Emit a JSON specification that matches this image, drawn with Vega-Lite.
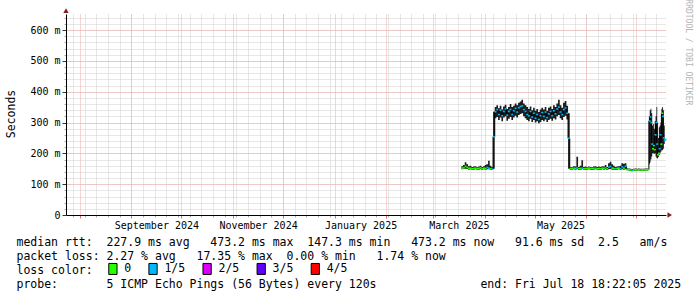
{
  "$schema": "https://vega.github.io/schema/vega-lite/v6.json",
  "width": 600,
  "height": 201,
  "autosize": {"type": "none"},
  "padding": {"left": 66, "top": 14, "right": 31, "bottom": 82},
  "background": "white",
  "title": {"text": "RRDTOOL / TOBI OETIKER", "orient": "right", "anchor": "start", "fontSize": 8, "font": "DejaVu Sans Mono", "fontWeight": "normal", "color": "#b4b4b4", "offset": 3, "dx": -9},
  "config": {"view": {"stroke": null}, "font": "DejaVu Sans Mono"},
  "datasets": {
    "ping": [
      {"t": "2025-03-18", "m": 152, "lo": 148, "hi": 158, "l": "0"},
      {"t": "2025-03-19", "m": 153, "lo": 149, "hi": 162, "l": "0"},
      {"t": "2025-03-20", "m": 158, "lo": 150, "hi": 171, "l": "0"},
      {"t": "2025-03-21", "m": 154, "lo": 149, "hi": 165, "l": "0"},
      {"t": "2025-03-22", "m": 151, "lo": 147, "hi": 158, "l": "0"},
      {"t": "2025-03-23", "m": 152, "lo": 148, "hi": 160, "l": "0"},
      {"t": "2025-03-24", "m": 150, "lo": 147, "hi": 156, "l": "0"},
      {"t": "2025-03-25", "m": 151, "lo": 147, "hi": 157, "l": "0"},
      {"t": "2025-03-26", "m": 152, "lo": 148, "hi": 158, "l": "0"},
      {"t": "2025-03-27", "m": 150, "lo": 147, "hi": 155, "l": "0"},
      {"t": "2025-03-28", "m": 151, "lo": 147, "hi": 157, "l": "0"},
      {"t": "2025-03-29", "m": 153, "lo": 148, "hi": 160, "l": "0"},
      {"t": "2025-03-30", "m": 150, "lo": 146, "hi": 156, "l": "0"},
      {"t": "2025-03-31", "m": 152, "lo": 148, "hi": 158, "l": "0"},
      {"t": "2025-04-01", "m": 151, "lo": 147, "hi": 162, "l": "0"},
      {"t": "2025-04-02", "m": 154, "lo": 148, "hi": 165, "l": "1/5"},
      {"t": "2025-04-03", "m": 152, "lo": 148, "hi": 176, "l": "1/5"},
      {"t": "2025-04-04", "m": 150, "lo": 147, "hi": 160, "l": "0"},
      {"t": "2025-04-05", "m": 149, "lo": 146, "hi": 155, "l": "1/5"},
      {"t": "2025-04-06", "m": 254, "lo": 150, "hi": 335, "l": "1/5"},
      {"t": "2025-04-07", "m": 335, "lo": 314, "hi": 350, "l": "1/5"},
      {"t": "2025-04-08", "m": 342, "lo": 318, "hi": 356, "l": "1/5"},
      {"t": "2025-04-09", "m": 326, "lo": 308, "hi": 346, "l": "1/5"},
      {"t": "2025-04-10", "m": 340, "lo": 316, "hi": 354, "l": "1/5"},
      {"t": "2025-04-11", "m": 322, "lo": 304, "hi": 342, "l": "1/5"},
      {"t": "2025-04-12", "m": 336, "lo": 316, "hi": 352, "l": "1/5"},
      {"t": "2025-04-13", "m": 344, "lo": 320, "hi": 358, "l": "1/5"},
      {"t": "2025-04-14", "m": 324, "lo": 306, "hi": 344, "l": "1/5"},
      {"t": "2025-04-15", "m": 336, "lo": 312, "hi": 350, "l": "1/5"},
      {"t": "2025-04-16", "m": 342, "lo": 318, "hi": 360, "l": "1/5"},
      {"t": "2025-04-17", "m": 326, "lo": 308, "hi": 350, "l": "1/5"},
      {"t": "2025-04-18", "m": 338, "lo": 316, "hi": 354, "l": "1/5"},
      {"t": "2025-04-19", "m": 346, "lo": 322, "hi": 362, "l": "1/5"},
      {"t": "2025-04-20", "m": 334, "lo": 316, "hi": 356, "l": "1/5"},
      {"t": "2025-04-21", "m": 348, "lo": 324, "hi": 364, "l": "1/5"},
      {"t": "2025-04-22", "m": 352, "lo": 328, "hi": 368, "l": "1/5"},
      {"t": "2025-04-23", "m": 354, "lo": 330, "hi": 374, "l": "1/5"},
      {"t": "2025-04-24", "m": 342, "lo": 320, "hi": 362, "l": "1/5"},
      {"t": "2025-04-25", "m": 336, "lo": 314, "hi": 356, "l": "1/5"},
      {"t": "2025-04-26", "m": 326, "lo": 308, "hi": 350, "l": "1/5"},
      {"t": "2025-04-27", "m": 322, "lo": 304, "hi": 344, "l": "1/5"},
      {"t": "2025-04-28", "m": 336, "lo": 312, "hi": 352, "l": "1/5"},
      {"t": "2025-04-29", "m": 318, "lo": 302, "hi": 340, "l": "1/5"},
      {"t": "2025-04-30", "m": 330, "lo": 308, "hi": 348, "l": "1/5"},
      {"t": "2025-05-01", "m": 314, "lo": 300, "hi": 338, "l": "1/5"},
      {"t": "2025-05-02", "m": 326, "lo": 304, "hi": 344, "l": "1/5"},
      {"t": "2025-05-03", "m": 310, "lo": 298, "hi": 334, "l": "1/5"},
      {"t": "2025-05-04", "m": 322, "lo": 302, "hi": 342, "l": "1/5"},
      {"t": "2025-05-05", "m": 332, "lo": 308, "hi": 348, "l": "1/5"},
      {"t": "2025-05-06", "m": 320, "lo": 304, "hi": 342, "l": "1/5"},
      {"t": "2025-05-07", "m": 334, "lo": 310, "hi": 350, "l": "1/5"},
      {"t": "2025-05-08", "m": 316, "lo": 302, "hi": 338, "l": "1/5"},
      {"t": "2025-05-09", "m": 328, "lo": 308, "hi": 348, "l": "1/5"},
      {"t": "2025-05-10", "m": 336, "lo": 312, "hi": 352, "l": "1/5"},
      {"t": "2025-05-11", "m": 322, "lo": 306, "hi": 344, "l": "1/5"},
      {"t": "2025-05-12", "m": 338, "lo": 314, "hi": 356, "l": "1/5"},
      {"t": "2025-05-13", "m": 328, "lo": 310, "hi": 350, "l": "1/5"},
      {"t": "2025-05-14", "m": 344, "lo": 320, "hi": 362, "l": "1/5"},
      {"t": "2025-05-15", "m": 350, "lo": 324, "hi": 374, "l": "1/5"},
      {"t": "2025-05-16", "m": 334, "lo": 314, "hi": 356, "l": "1/5"},
      {"t": "2025-05-17", "m": 326, "lo": 308, "hi": 348, "l": "1/5"},
      {"t": "2025-05-18", "m": 342, "lo": 318, "hi": 364, "l": "1/5"},
      {"t": "2025-05-19", "m": 347, "lo": 322, "hi": 370, "l": "1/5"},
      {"t": "2025-05-20", "m": 330, "lo": 310, "hi": 354, "l": "1/5"},
      {"t": "2025-05-21", "m": 249, "lo": 150, "hi": 330, "l": "1/5"},
      {"t": "2025-05-22", "m": 151, "lo": 147, "hi": 156, "l": "0"},
      {"t": "2025-05-23", "m": 150, "lo": 147, "hi": 155, "l": "0"},
      {"t": "2025-05-24", "m": 152, "lo": 148, "hi": 158, "l": "1/5"},
      {"t": "2025-05-25", "m": 151, "lo": 147, "hi": 157, "l": "0"},
      {"t": "2025-05-26", "m": 153, "lo": 148, "hi": 189, "l": "1/5"},
      {"t": "2025-05-27", "m": 150, "lo": 146, "hi": 156, "l": "0"},
      {"t": "2025-05-28", "m": 151, "lo": 147, "hi": 160, "l": "0"},
      {"t": "2025-05-29", "m": 152, "lo": 148, "hi": 178, "l": "1/5"},
      {"t": "2025-05-30", "m": 150, "lo": 147, "hi": 156, "l": "0"},
      {"t": "2025-05-31", "m": 151, "lo": 147, "hi": 157, "l": "0"},
      {"t": "2025-06-01", "m": 150, "lo": 146, "hi": 155, "l": "0"},
      {"t": "2025-06-02", "m": 152, "lo": 148, "hi": 157, "l": "0"},
      {"t": "2025-06-03", "m": 151, "lo": 147, "hi": 156, "l": "0"},
      {"t": "2025-06-04", "m": 150, "lo": 146, "hi": 155, "l": "0"},
      {"t": "2025-06-05", "m": 151, "lo": 147, "hi": 157, "l": "0"},
      {"t": "2025-06-06", "m": 152, "lo": 148, "hi": 158, "l": "1/5"},
      {"t": "2025-06-07", "m": 150, "lo": 147, "hi": 156, "l": "0"},
      {"t": "2025-06-08", "m": 151, "lo": 147, "hi": 157, "l": "0"},
      {"t": "2025-06-09", "m": 150, "lo": 146, "hi": 156, "l": "0"},
      {"t": "2025-06-10", "m": 152, "lo": 148, "hi": 158, "l": "0"},
      {"t": "2025-06-11", "m": 151, "lo": 147, "hi": 157, "l": "0"},
      {"t": "2025-06-12", "m": 153, "lo": 148, "hi": 162, "l": "1/5"},
      {"t": "2025-06-13", "m": 150, "lo": 146, "hi": 156, "l": "0"},
      {"t": "2025-06-14", "m": 155, "lo": 148, "hi": 168, "l": "1/5"},
      {"t": "2025-06-15", "m": 158, "lo": 149, "hi": 173, "l": "1/5"},
      {"t": "2025-06-16", "m": 152, "lo": 147, "hi": 165, "l": "0"},
      {"t": "2025-06-17", "m": 151, "lo": 147, "hi": 160, "l": "0"},
      {"t": "2025-06-18", "m": 150, "lo": 146, "hi": 156, "l": "1/5"},
      {"t": "2025-06-19", "m": 151, "lo": 147, "hi": 157, "l": "0"},
      {"t": "2025-06-20", "m": 152, "lo": 148, "hi": 158, "l": "0"},
      {"t": "2025-06-21", "m": 150, "lo": 146, "hi": 160, "l": "1/5"},
      {"t": "2025-06-22", "m": 156, "lo": 148, "hi": 168, "l": "1/5"},
      {"t": "2025-06-23", "m": 152, "lo": 147, "hi": 166, "l": "0"},
      {"t": "2025-06-24", "m": 158, "lo": 148, "hi": 168, "l": "1/5"},
      {"t": "2025-06-25", "m": 148, "lo": 145, "hi": 152, "l": "0"},
      {"t": "2025-06-26", "m": 147, "lo": 144, "hi": 151, "l": "0"},
      {"t": "2025-06-27", "m": 146, "lo": 143, "hi": 150, "l": "0"},
      {"t": "2025-06-28", "m": 145, "lo": 142, "hi": 149, "l": "1/5"},
      {"t": "2025-06-29", "m": 146, "lo": 143, "hi": 150, "l": "0"},
      {"t": "2025-06-30", "m": 147, "lo": 144, "hi": 151, "l": "0"},
      {"t": "2025-07-01", "m": 146, "lo": 143, "hi": 150, "l": "0"},
      {"t": "2025-07-02", "m": 147, "lo": 144, "hi": 151, "l": "0"},
      {"t": "2025-07-03", "m": 146, "lo": 143, "hi": 150, "l": "0"},
      {"t": "2025-07-04", "m": 147, "lo": 144, "hi": 150, "l": "0"},
      {"t": "2025-07-05", "m": 146, "lo": 143, "hi": 150, "l": "0"},
      {"t": "2025-07-06", "m": 147, "lo": 144, "hi": 151, "l": "0"},
      {"t": "2025-07-07", "m": 147, "lo": 144, "hi": 151, "l": "0"},
      {"t": "2025-07-08T00:00:00Z", "m": 148, "lo": 145, "hi": 152, "l": "0"},
      {"t": "2025-07-08T12:00:00Z", "m": 305, "lo": 165, "hi": 320, "l": "1/5"},
      {"t": "2025-07-09T00:00:00Z", "m": 318, "lo": 170, "hi": 340, "l": "1/5"},
      {"t": "2025-07-09T12:00:00Z", "m": 300, "lo": 180, "hi": 345, "l": "1/5"},
      {"t": "2025-07-10T00:00:00Z", "m": 230, "lo": 190, "hi": 330, "l": "1/5"},
      {"t": "2025-07-10T12:00:00Z", "m": 215, "lo": 200, "hi": 290, "l": "0"},
      {"t": "2025-07-11T00:00:00Z", "m": 225, "lo": 200, "hi": 295, "l": "0"},
      {"t": "2025-07-11T12:00:00Z", "m": 212, "lo": 198, "hi": 280, "l": "0"},
      {"t": "2025-07-12T00:00:00Z", "m": 260, "lo": 200, "hi": 305, "l": "1/5"},
      {"t": "2025-07-12T12:00:00Z", "m": 300, "lo": 190, "hi": 320, "l": "1/5"},
      {"t": "2025-07-13T00:00:00Z", "m": 230, "lo": 185, "hi": 350, "l": "1/5"},
      {"t": "2025-07-13T12:00:00Z", "m": 195, "lo": 183, "hi": 300, "l": "0"},
      {"t": "2025-07-14T00:00:00Z", "m": 200, "lo": 188, "hi": 250, "l": "0"},
      {"t": "2025-07-14T12:00:00Z", "m": 215, "lo": 195, "hi": 285, "l": "1/5"},
      {"t": "2025-07-15T00:00:00Z", "m": 260, "lo": 200, "hi": 290, "l": "1/5"},
      {"t": "2025-07-15T12:00:00Z", "m": 230, "lo": 205, "hi": 300, "l": "0"},
      {"t": "2025-07-16T00:00:00Z", "m": 330, "lo": 210, "hi": 345, "l": "0"},
      {"t": "2025-07-16T12:00:00Z", "m": 320, "lo": 210, "hi": 350, "l": "1/5"},
      {"t": "2025-07-17T00:00:00Z", "m": 250, "lo": 215, "hi": 340, "l": "1/5"},
      {"t": "2025-07-17T12:00:00Z", "m": 243, "lo": 230, "hi": 290, "l": "1/5"},
      {"t": "2025-07-18T00:00:00Z", "m": 245, "lo": 232, "hi": 285, "l": "1/5"}
    ],
    "one": [{"k": 1}]
  },
  "layer": [
    {
      "data": {"name": "ping"},
      "mark": {"type": "area", "interpolate": "step-after", "color": "#1e1e1e"},
      "encoding": {
        "x": {"field": "t", "type": "temporal",
          "scale": {"type": "utc", "domain": [{"year": 2024, "month": 7, "date": 23, "hours": 18, "minutes": 22, "utc": true}, {"year": 2025, "month": 7, "date": 18, "hours": 18, "minutes": 22, "utc": true}]},
          "axis": {"orient": "bottom", "tickCount": {"interval": "week", "step": 1}, "grid": true, "gridColor": "#cfcfcf", "gridDash": [1, 1], "gridWidth": 1, "labels": false, "ticks": true, "tickSize": 2, "tickColor": "#aaaaaa", "domain": false, "title": null, "zindex": 0}},
        "y": {"field": "hi", "type": "quantitative",
          "scale": {"domain": [0, 652], "nice": false, "zero": true},
          "axis": {"orient": "left", "values": [0, 20, 40, 60, 80, 100, 120, 140, 160, 180, 200, 220, 240, 260, 280, 300, 320, 340, 360, 380, 400, 420, 440, 460, 480, 500, 520, 540, 560, 580, 600, 620, 640], "grid": true, "gridColor": "#cfcfcf", "gridDash": [1, 1], "labels": false, "tickSize": 2, "tickColor": "#aaaaaa", "domain": false, "title": null, "zindex": 0}},
        "y2": {"field": "lo"}
      }
    },
    {
      "data": {"name": "ping"},
      "mark": {"type": "line", "interpolate": "step-after", "color": "#000000", "strokeWidth": 1},
      "encoding": {
        "x": {"field": "t", "type": "temporal",
          "scale": {"type": "utc", "domain": [{"year": 2024, "month": 7, "date": 23, "hours": 18, "minutes": 22, "utc": true}, {"year": 2025, "month": 7, "date": 18, "hours": 18, "minutes": 22, "utc": true}]},
          "axis": {"orient": "bottom", "tickCount": {"interval": "month", "step": 1}, "grid": true, "gridColor": "#f0a8a8", "gridDash": [1, 1], "gridWidth": 1, "labels": false, "ticks": true, "tickSize": 3, "tickColor": "#e07070", "domain": true, "domainColor": "#000000", "domainWidth": 1, "title": null, "zindex": 0}},
        "y": {"field": "m", "type": "quantitative",
          "scale": {"domain": [0, 652], "nice": false, "zero": true},
          "axis": {"orient": "left", "values": [0, 100, 200, 300, 400, 500, 600], "grid": true, "gridColor": "#f0a8a8", "gridDash": [1, 1], "labelExpr": "datum.value == 0 ? '0' : datum.value + ' m'", "labelFont": "DejaVu Sans Mono", "labelFontSize": 10, "labelColor": "#000000", "labelPadding": 2, "tickSize": 4, "tickColor": "#333333", "domain": true, "domainColor": "#000000", "title": "Seconds", "titleFont": "DejaVu Sans Mono", "titleFontSize": 11.5, "titleFontWeight": "normal", "titleColor": "#000000", "titleAngle": 270, "titleAlign": "center", "titleBaseline": "middle", "titleX": -55, "titleY": 99.5, "zindex": 0}}
      }
    },
    {
      "data": {"name": "ping"},
      "mark": {"type": "tick", "orient": "horizontal", "size": 2, "thickness": 1.6, "opacity": 1, "xOffset": 0.8},
      "encoding": {
        "x": {"field": "t", "type": "temporal",
          "scale": {"type": "utc", "domain": [{"year": 2024, "month": 7, "date": 23, "hours": 18, "minutes": 22, "utc": true}, {"year": 2025, "month": 7, "date": 18, "hours": 18, "minutes": 22, "utc": true}]},
          "axis": {"orient": "bottom",
            "values": [{"year": 2024, "month": 9, "date": 16, "utc": true}, {"year": 2024, "month": 11, "date": 16, "utc": true}, {"year": 2025, "month": 1, "date": 16, "hours": 12, "utc": true}, {"year": 2025, "month": 3, "date": 16, "hours": 12, "utc": true}, {"year": 2025, "month": 5, "date": 16, "hours": 12, "utc": true}],
            "labelExpr": "utcFormat(datum.value, '%B %Y')", "labelFont": "DejaVu Sans Mono", "labelFontSize": 10, "labelColor": "#000000", "labelBaseline": "alphabetic", "labelPadding": 13, "labelFlush": false, "labelOverlap": false,
            "grid": false, "ticks": false, "domain": false,
            "title": ["median\u00a0rtt:\u00a0\u00a0227.9\u00a0ms\u00a0avg\u00a0\u00a0\u00a0473.2\u00a0ms\u00a0max\u00a0\u00a0147.3\u00a0ms\u00a0min\u00a0\u00a0\u00a0473.2\u00a0ms\u00a0now\u00a0\u00a0\u00a091.6\u00a0ms\u00a0sd\u00a0\u00a02.5\u00a0\u00a0\u00a0am/s",
                      "packet\u00a0loss:\u00a02.27\u00a0%\u00a0avg\u00a0\u00a0\u00a017.35\u00a0%\u00a0max\u00a0\u00a00.00\u00a0%\u00a0min\u00a0\u00a0\u00a01.74\u00a0%\u00a0now",
                      "loss\u00a0color:",
                      "probe:\u00a0\u00a0\u00a0\u00a0\u00a0\u00a0\u00a05\u00a0ICMP\u00a0Echo\u00a0Pings\u00a0(56\u00a0Bytes)\u00a0every\u00a0120s\u00a0\u00a0\u00a0\u00a0\u00a0\u00a0\u00a0\u00a0\u00a0\u00a0\u00a0\u00a0\u00a0\u00a0\u00a0end:\u00a0Fri\u00a0Jul\u00a018\u00a018:22:05\u00a02025"],
            "titleFont": "DejaVu Sans Mono", "titleFontSize": 11.5, "titleFontWeight": "normal", "titleColor": "#000000", "titleAnchor": "start", "titleAlign": "left", "titleBaseline": "alphabetic", "titleLineHeight": 14, "titleX": -50, "titleY": 30, "zindex": 0}},
        "y": {"field": "m", "type": "quantitative", "scale": {"domain": [0, 652], "nice": false, "zero": true}, "axis": null},
        "color": {"field": "l", "type": "nominal",
          "scale": {"domain": ["0", "1/5", "2/5", "3/5", "4/5"], "range": ["#26ff00", "#00b8ff", "#dd00ff", "#5e00ff", "#ff0000"]},
          "legend": {"orient": "none", "legendX": 40.9, "legendY": 248.7, "direction": "horizontal", "columns": 5, "title": null, "padding": 0,
            "symbolType": "M-0.75,-1H0.75V1H-0.75Z", "symbolSize": 121, "symbolStrokeColor": "#000000", "symbolStrokeWidth": 1, "symbolOpacity": 1,
            "labelFont": "DejaVu Sans Mono", "labelFontSize": 11.5, "labelColor": "#000000", "labelOffset": 5.4, "columnPadding": 14.1}}
      }
    },
    {
      "data": {"name": "one"},
      "mark": {"type": "point", "shape": "triangle-up", "filled": true, "size": 28, "color": "#7f1f1f", "opacity": 1},
      "encoding": {
        "x": {"datum": {"year": 2024, "month": 7, "date": 23, "hours": 18, "minutes": 22, "utc": true}, "type": "temporal",
          "scale": {"type": "utc", "domain": [{"year": 2024, "month": 7, "date": 23, "hours": 18, "minutes": 22, "utc": true}, {"year": 2025, "month": 7, "date": 18, "hours": 18, "minutes": 22, "utc": true}]}, "axis": null},
        "y": {"datum": 663, "type": "quantitative", "scale": {"domain": [0, 652], "nice": false, "zero": true}, "axis": null}
      }
    },
    {
      "data": {"name": "one"},
      "mark": {"type": "point", "shape": "triangle-right", "filled": true, "size": 28, "color": "#7f1f1f", "opacity": 1},
      "encoding": {
        "x": {"datum": {"year": 2025, "month": 7, "date": 21, "utc": true}, "type": "temporal",
          "scale": {"type": "utc", "domain": [{"year": 2024, "month": 7, "date": 23, "hours": 18, "minutes": 22, "utc": true}, {"year": 2025, "month": 7, "date": 18, "hours": 18, "minutes": 22, "utc": true}]}, "axis": null},
        "y": {"datum": 0, "type": "quantitative", "scale": {"domain": [0, 652], "nice": false, "zero": true}, "axis": null}
      }
    }
  ],
  "resolve": {"axis": {"x": "independent", "y": "independent"}}
}
